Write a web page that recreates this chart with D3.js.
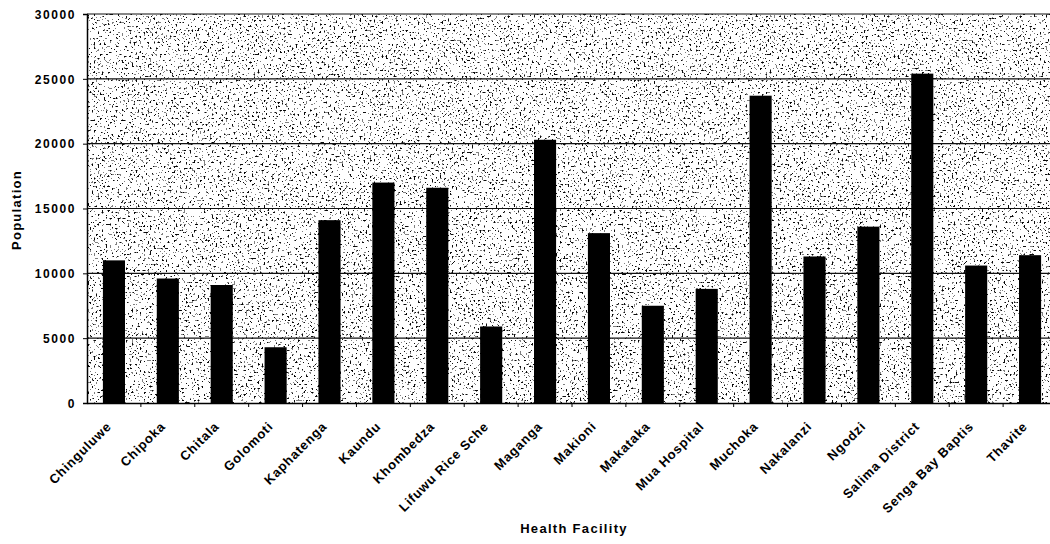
<!DOCTYPE html>
<html><head><meta charset="utf-8">
<script src="https://cdn.jsdelivr.net/npm/d3@7"></script>
<style>
body{margin:0;background:#fff;}
svg text{font-family:"Liberation Sans",Arial,sans-serif;font-weight:bold;fill:#000;}
</style></head>
<body><svg id="c" width="1050" height="544"></svg>
<script>
const categories = ["Chinguluwe","Chipoka","Chitala","Golomoti","Kaphatenga","Kaundu","Khombedza","Lifuwu Rice Sche","Maganga","Makioni","Makataka","Mua Hospital","Muchoka","Nakalanzi","Ngodzi","Salima District","Senga Bay Baptis","Thavite"];
const population = [11000,9600,9100,4300,14100,17000,16600,5900,20300,13100,7500,8800,23700,11300,13600,25400,10600,11400];
const yTicks = [0,5000,10000,15000,20000,25000,30000];

const svg = d3.select("#c");
const m = {left:87, top:14, bottom:403, right:1057};
const x = d3.scaleBand().domain(categories).range([m.left, m.right]).paddingInner(0.59).paddingOuter(0.295);
const y = d3.scaleLinear().domain([0,30000]).range([m.bottom, m.top]);

const defs = svg.append("defs");
const f = defs.append("filter").attr("id","speck").attr("filterUnits","userSpaceOnUse")
  .attr("x",m.left).attr("y",m.top).attr("width",m.right-m.left).attr("height",m.bottom-m.top);
f.append("feTurbulence").attr("type","fractalNoise").attr("baseFrequency","0.5").attr("numOctaves",2).attr("seed",7).attr("result","n");
f.append("feColorMatrix").attr("type","matrix").attr("values","0 0 0 0 0  0 0 0 0 0  0 0 0 0 0  1.6 0 0 0 -0.3");
const ct = f.append("feComponentTransfer");
ct.append("feFuncA").attr("type","discrete").attr("tableValues","0 0 0 0 0 0 0 0.5 0.95 1");

// plot background
svg.append("rect").attr("x",m.left).attr("y",m.top).attr("width",m.right-m.left).attr("height",m.bottom-m.top).attr("fill","#fff");
svg.append("rect").attr("x",m.left).attr("y",m.top).attr("width",m.right-m.left).attr("height",m.bottom-m.top)
  .attr("fill","#000").attr("filter","url(#speck)");

// gridlines
svg.append("g").selectAll("line").data(yTicks.filter(d=>d>0)).join("line")
  .attr("x1",m.left).attr("x2",m.right).attr("y1",d=>y(d)).attr("y2",d=>y(d))
  .attr("stroke","#111").attr("stroke-width",1.2);

// bars
svg.append("g").selectAll("rect").data(population).join("rect")
  .attr("x",(d,i)=>x(categories[i])).attr("width",x.bandwidth())
  .attr("y",d=>y(d)).attr("height",d=>y(0)-y(d)).attr("fill","#000");

// y axis
const ya = svg.append("g").attr("transform",`translate(${m.left},0)`)
  .call(d3.axisLeft(y).tickValues(yTicks).tickSize(4).tickPadding(7).tickFormat(d3.format("d")));
ya.select(".domain").attr("stroke","#000").attr("stroke-width",1.5);
ya.selectAll(".tick line").attr("stroke","#000");
ya.selectAll("text").style("font-size","12px").style("letter-spacing","1.6px").attr("dy","0.35em");

// x axis
const xa = svg.append("g").attr("transform",`translate(0,${m.bottom})`)
  .call(d3.axisBottom(x).tickSize(0).tickPadding(0));
xa.select(".domain").attr("stroke","#000").attr("stroke-width",1.5);
xa.append("g").selectAll("line").data(categories.slice(1)).join("line")
  .attr("x1",d=>x(d)-x.step()*x.paddingInner()/2).attr("x2",d=>x(d)-x.step()*x.paddingInner()/2)
  .attr("y1",0).attr("y2",4).attr("stroke","#000");
xa.selectAll(".tick text")
  .attr("y",0).attr("text-anchor","end").attr("transform","translate(-5,21) rotate(-45)")
  .attr("dy","0.35em").style("font-size","13px").style("letter-spacing","0.8px");

// titles
svg.append("text").attr("transform","translate(21,210) rotate(-90)").attr("text-anchor","middle")
  .style("font-size","13px").style("letter-spacing","1.3px").text("Population");
svg.append("text").attr("x",574).attr("y",533).attr("text-anchor","middle")
  .style("font-size","13px").style("letter-spacing","1.3px").text("Health Facility");
</script></body></html>
